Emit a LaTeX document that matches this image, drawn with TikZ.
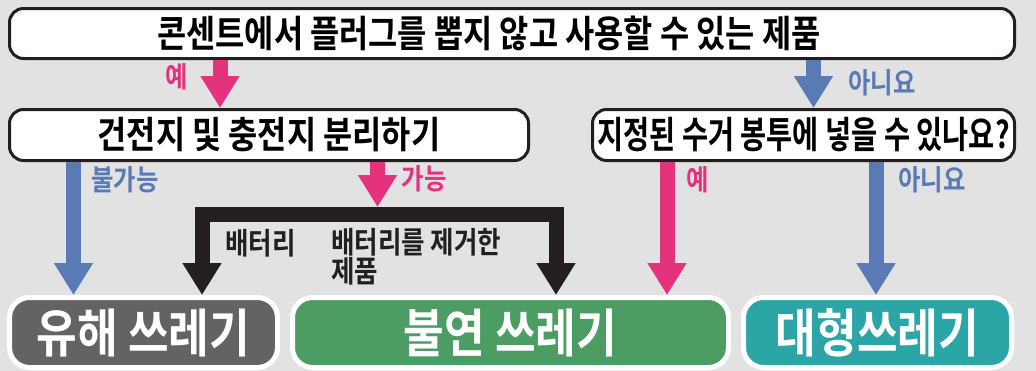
\documentclass[tikz,border=0pt]{standalone}
\usepackage{fontspec}
\setmainfont{Noto Sans CJK KR}[FakeStretch=0.85, BoldFont={Noto Sans CJK KR Bold}]
\newfontfamily\krnarrow{Noto Sans CJK KR Bold}[FakeStretch=0.76]
\usepackage{xcolor}
\usetikzlibrary{arrows.meta,positioning}

\definecolor{bgGray}{HTML}{E2E2E2}
\definecolor{yesPink}{HTML}{E4327C}
\definecolor{noBlue}{HTML}{5A7AB5}
\definecolor{barBlack}{HTML}{231F20}
\definecolor{hazGray}{HTML}{636365}
\definecolor{burnGreen}{HTML}{4D9C63}
\definecolor{bigTeal}{HTML}{2BA5A6}

\tikzset{bigtip/.tip={Triangle[length=24pt, width=27.75pt]}}

\begin{document}
\begin{tikzpicture}[
    x=0.75pt, y=-0.75pt,
    question/.style={rectangle, draw=barBlack, line width=2.25pt, rounded corners=10.5pt, fill=white, font=\fontsize{28}{32}\selectfont\bfseries, inner sep=0pt, minimum height=38.25pt},
    bin/.style={rectangle, draw=white, line width=3.75pt, rounded corners=15pt, text=white, font=\fontsize{39}{44}\selectfont\bfseries, inner sep=0pt, minimum height=52.5pt},
    answer/.style={font=\fontsize{21.5}{24}\selectfont\bfseries, inner sep=0pt},
    note/.style={font=\fontsize{22.5}{20.25}\selectfont\bfseries, inner sep=0pt, text=barBlack, align=left},
    flow/.style={line width=11.25pt, -bigtip}
]
    % Background
    \fill[bgGray] (0,0) rectangle (1036,371);

    % Questions
    \node[question, minimum width=753.75pt, minimum height=37.5pt] (plug) at (512,33.5) {};
    \node[font=\fontsize{28}{32}\selectfont\bfseries, inner sep=0pt] (plugtext) at ([xshift=-17.25pt]plug.center) {콘센트에서 플러그를 뽑지 않고 사용할 수 있는 제품};
    \node[question, minimum width=389.25pt] (sep) at (269,135) {건전지 및 충전지 분리하기};
    \node[question, minimum width=316.5pt, font=\fontsize{28}{32}\selectfont\krnarrow] (bag) at (803.5,135) {지정된 수거 봉투에 넣을 수 있나요?};

    % Bins
    \node[bin, fill=hazGray, minimum width=201pt] (hazard) at (143.5,332.5) {유해 쓰레기};
    \node[bin, fill=burnGreen, minimum width=327pt] (nonburn) at (510.5,332.5) {불연 쓰레기};
    \node[bin, fill=bigTeal, minimum width=201pt] (bulky) at (877.5,332.5) {대형쓰레기};

    % Arrow columns
    \coordinate (xA) at (220,0);
    \coordinate (xB) at (813.5,0);
    \coordinate (xC) at (73.5,0);
    \coordinate (xD) at (377.5,0);
    \coordinate (xE) at (202,0);
    \coordinate (xF) at (556,0);
    \coordinate (xG) at (667,0);
    \coordinate (xH) at (876,0);
    \coordinate (bar) at (377.5,214.5);

    % Arrows
    \draw[flow, yesPink] (plug.south -| xA) -- (sep.north -| xA);
    \draw[flow, noBlue] (plug.south -| xB) -- (bag.north -| xB);
    \draw[flow, noBlue] (sep.south -| xC) -- (hazard.north -| xC);
    \draw[flow, yesPink] (sep.south -| xD) -- ([yshift=5.625pt]bar);
    \draw[flow, barBlack, bigtip-bigtip, line join=miter] (hazard.north -| xE) |- (bar) -| (nonburn.north -| xF);
    \draw[flow, yesPink] (bag.south -| xG) -- (nonburn.north -| xG);
    \draw[flow, noBlue] (bag.south -| xH) -- (bulky.north -| xH);

    % Labels
    \node[answer, text=yesPink] (yes1) at (177,77) {예};
    \node[answer, text=noBlue] (no1) at (882,83) {아니요};
    \node[answer, text=noBlue] (cannot) at (125,180) {불가능};
    \node[answer, text=yesPink] (can) at (424,179) {가능};
    \node[answer, text=yesPink] (yes2) at (698,180) {예};
    \node[answer, text=noBlue] (no2) at (932,180) {아니요};
    \node[note, anchor=west] (battery) at (225,243) {배터리};
    \node[note, anchor=north west] (removed) at (331,228) {배터리를 제거한\\제품};
\end{tikzpicture}
\end{document}
